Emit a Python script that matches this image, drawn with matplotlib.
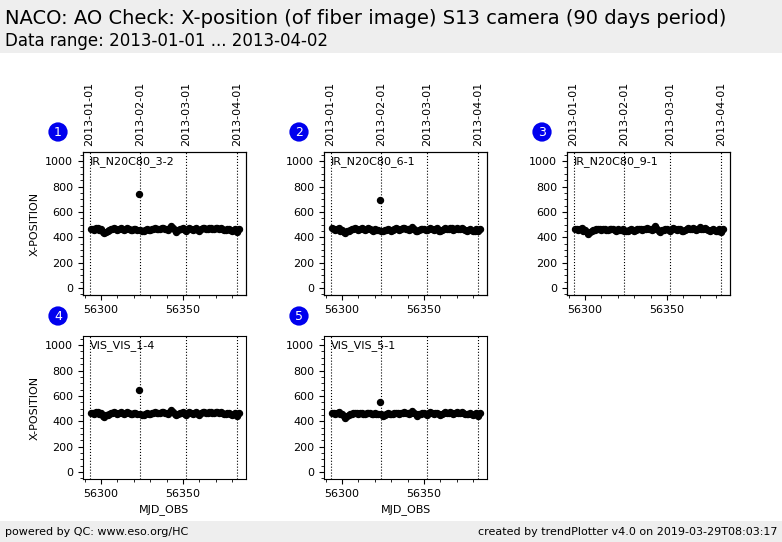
import matplotlib
matplotlib.use("Agg")
import matplotlib.pyplot as plt
from matplotlib.ticker import MultipleLocator, FixedLocator

mjd = [56294, 56295, 56296, 56297, 56298, 56299, 56300, 56301, 56302, 56303,
       56304, 56305, 56306, 56307, 56308, 56309, 56310, 56311, 56312, 56313,
       56314, 56315, 56316, 56317, 56318, 56319, 56320, 56321, 56322, 56323,
       56324, 56325, 56326, 56327, 56328, 56329, 56330, 56331, 56332, 56333,
       56334, 56335, 56336, 56337, 56338, 56339, 56340, 56341, 56342, 56343,
       56344, 56345, 56346, 56347, 56348, 56349, 56350, 56351, 56352, 56353,
       56354, 56355, 56356, 56357, 56358, 56359, 56360, 56361, 56362, 56363,
       56364, 56365, 56366, 56367, 56368, 56369, 56370, 56371, 56372, 56373,
       56374, 56375, 56376, 56377, 56378, 56379, 56380, 56381, 56382, 56383,
       56384]

xpos_3_2 = [468, 465, 460, 470, 472, 455, 462, 440, 430, 445,
            450, 458, 462, 466, 470, 465, 460, 468, 470, 462,
            458, 465, 470, 468, 460, 455, 465, 462, 458, 740,
            455, 450, 452, 460, 465, 458, 455, 462, 466, 470,
            468, 462, 465, 470, 472, 468, 465, 460, 470, 485,
            470, 455, 445, 458, 462, 465, 470, 460, 452, 468,
            472, 465, 460, 468, 470, 455, 450, 462, 470, 475,
            468, 465, 472, 470, 462, 465, 475, 470, 468, 472,
            465, 460, 455, 462, 468, 458, 450, 455, 465, 445,
            465]
xpos_6_1 = [470, 466, 458, 468, 474, 452, 460, 442, 432, 448,
            452, 456, 464, 468, 472, 466, 458, 466, 472, 464,
            456, 463, 472, 466, 458, 452, 463, 460, 456, 690,
            452, 448, 455, 458, 463, 460, 453, 460, 468, 472,
            466, 460, 467, 472, 470, 466, 463, 458, 468, 483,
            468, 453, 447, 456, 464, 463, 468, 458, 455, 466,
            470, 463, 458, 466, 472, 453, 452, 460, 468, 473,
            466, 463, 470, 472, 460, 463, 473, 468, 466, 470,
            463, 458, 453, 460, 466, 456, 452, 453, 463, 447,
            463]
xpos_9_1 = [466, 463, 458, 468, 470, 453, 460, 438, 428, 443,
            448, 455, 460, 464, 468, 463, 458, 466, 468, 460,
            456, 462, 468, 466, 458, 453, 462, 460, 456, 462,
            453, 448, 450, 458, 463, 456, 453, 460, 464, 468,
            466, 460, 463, 468, 470, 466, 463, 458, 468, 490,
            468, 453, 445, 456, 460, 463, 468, 458, 452, 466,
            470, 463, 458, 466, 468, 453, 450, 460, 468, 473,
            466, 463, 470, 468, 460, 463, 478, 468, 466, 470,
            463, 458, 453, 460, 466, 456, 448, 453, 463, 440,
            463]
xpos_vis_1_4 = [469, 466, 461, 471, 473, 456, 463, 441, 431, 446,
                451, 459, 463, 467, 471, 466, 461, 469, 471, 463,
                459, 466, 471, 469, 461, 456, 466, 463, 459, 645,
                456, 446, 453, 461, 466, 459, 456, 463, 467, 471,
                469, 463, 466, 471, 473, 469, 466, 461, 471, 486,
                471, 456, 446, 459, 463, 466, 471, 461, 453, 469,
                473, 466, 461, 469, 471, 456, 451, 463, 471, 476,
                469, 466, 473, 471, 463, 466, 476, 471, 469, 473,
                466, 461, 456, 463, 469, 459, 451, 456, 466, 441,
                466]
xpos_vis_5_1 = [467, 464, 459, 469, 471, 454, 461, 439, 429, 444,
                449, 457, 461, 465, 469, 464, 459, 467, 469, 461,
                457, 464, 469, 467, 459, 454, 464, 461, 457, 550,
                454, 440, 451, 459, 464, 457, 454, 461, 465, 469,
                467, 461, 464, 469, 471, 467, 464, 459, 469, 484,
                469, 454, 444, 457, 461, 464, 469, 459, 451, 467,
                471, 464, 459, 467, 469, 454, 449, 461, 469, 474,
                467, 464, 471, 469, 461, 464, 474, 469, 467, 471,
                464, 459, 454, 461, 467, 457, 449, 454, 464, 440,
                464]

panel_names = ["IR_N20C80_3-2", "IR_N20C80_6-1", "IR_N20C80_9-1",
               "VIS_VIS_1-4", "VIS_VIS_5-1"]
panel_values = [xpos_3_2, xpos_6_1, xpos_9_1, xpos_vis_1_4, xpos_vis_5_1]
month_mjd = [56293, 56324, 56352, 56383]
month_labels = ["2013-01-01", "2013-02-01", "2013-03-01", "2013-04-01"]

title = "NACO: AO Check: X-position (of fiber image) S13 camera (90 days period)"
subtitle = "Data range: 2013-01-01 ... 2013-04-02"
footer_left = "powered by QC: www.eso.org/HC"
footer_right = "created by trendPlotter v4.0 on 2019-03-29T08:03:17"

W, H = 782, 542
fig = plt.figure(figsize=(W / 100, H / 100), dpi=100)
fig.patch.set_facecolor("white")

# header and footer bands
fig.patches.append(plt.Rectangle((0, 1 - 53 / H), 1, 53 / H, transform=fig.transFigure,
                                 facecolor="#eeeeee", edgecolor="none", zorder=0))
fig.patches.append(plt.Rectangle((0, 0), 1, 21 / H, transform=fig.transFigure,
                                 facecolor="#eeeeee", edgecolor="none", zorder=0))
fig.text(5 / W, 1 - 18 / H, title, fontsize=14, va="center", ha="left")
fig.text(5 / W, 1 - 41 / H, subtitle, fontsize=12, va="center", ha="left")
fig.text(5 / W, 10 / H, footer_left, fontsize=8, va="center", ha="left")
fig.text(1 - 4 / W, 10 / H, footer_right, fontsize=8, va="center", ha="right")

col_left = [83, 324, 567]
row_top = [152, 336]
aw, ah = 163, 143

for i, (name, vals) in enumerate(zip(panel_names, panel_values)):
    r, c = divmod(i, 3)
    left = col_left[c]
    top = row_top[r]
    ax = fig.add_axes([left / W, 1 - (top + ah) / H, aw / W, ah / H])
    ax.plot(mjd, vals, "o", color="black", markersize=4.3, linestyle="none")
    for m in month_mjd:
        ax.axvline(m, color="black", linestyle=":", linewidth=0.8)
    ax.set_xlim(56289, 56388.5)
    ax.set_ylim(-55, 1072)
    ax.xaxis.set_major_locator(FixedLocator([56300, 56350]))
    ax.xaxis.set_minor_locator(MultipleLocator(10))
    ax.yaxis.set_major_locator(MultipleLocator(200))
    ax.yaxis.set_minor_locator(MultipleLocator(50))
    ax.tick_params(labelsize=8)
    ax.text(0.04, 0.93, name, transform=ax.transAxes, fontsize=8, va="center", ha="left")
    if c == 0:
        ax.set_ylabel("X-POSITION", fontsize=8)
    if r == 1:
        ax.set_xlabel("MJD_OBS", fontsize=8)
    if r == 0:
        top_ax = ax.twiny()
        top_ax.set_xlim(ax.get_xlim())
        top_ax.set_xticks(month_mjd)
        top_ax.set_xticklabels(month_labels, rotation=90, fontsize=8)
        top_ax.tick_params(axis="x", length=0, pad=4)
        top_ax.xaxis.set_minor_locator(FixedLocator([]))
    # number badge
    fig.text((left - 25) / W, 1 - (top - 20) / H, str(i + 1), fontsize=9, color="white",
             ha="center", va="center",
             bbox=dict(boxstyle="circle,pad=0.25", facecolor="#0000ee", edgecolor="none"))

fig.savefig("out.png", dpi=100)
